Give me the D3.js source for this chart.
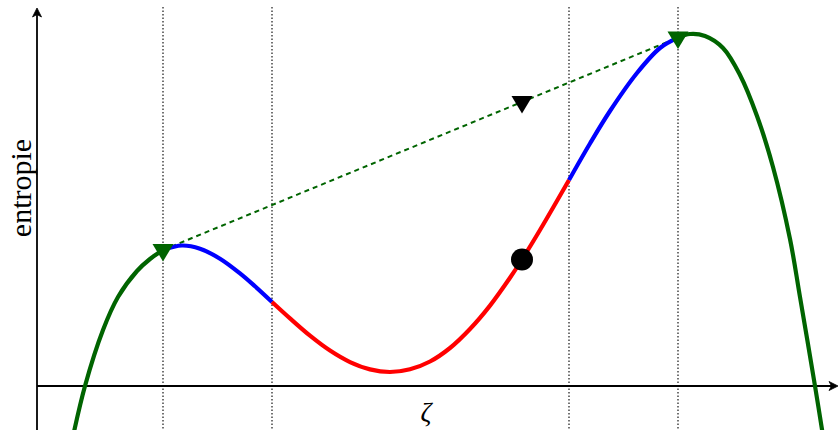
<!DOCTYPE html>
<html>
<head>
<meta charset="utf-8">
<script src="https://cdn.jsdelivr.net/npm/d3@7"></script>
<style>
  html, body { margin: 0; padding: 0; background: #fff; }
  svg { display: block; }
</style>
</head>
<body>
<svg id="chart" width="838" height="430"></svg>
<script>
// ---- data ----
const zeta = [0.35, 0.48, 0.66, 0.81, 1.00, 1.13, 1.26, 1.45, 1.63, 1.83, 2.03, 2.18, 2.35,
  2.53, 2.73, 2.93, 3.13, 3.33, 3.53, 3.73, 3.93, 4.13, 4.33, 4.53, 4.73, 4.85, 5.03, 5.32,
  5.53, 5.73, 6.00, 6.23, 6.41, 6.53, 6.68, 6.86, 7.03, 7.20, 7.36, 7.53, 7.63, 7.78, 7.87];
const entropie = [-0.55, 0.00, 0.56, 0.89, 1.15, 1.27, 1.36, 1.405, 1.373, 1.273, 1.126, 0.997, 0.84,
  0.676, 0.503, 0.354, 0.239, 0.166, 0.14, 0.167, 0.245, 0.38, 0.57, 0.804, 1.082, 1.265, 1.56, 2.06,
  2.425, 2.75, 3.13, 3.38, 3.484, 3.52, 3.50, 3.38, 3.11, 2.70, 2.19, 1.47, 0.89, 0.00, -0.56];
// phase boundaries (vertical dotted lines)
const boundaries = [1.26, 2.35, 5.32, 6.41];
const phases = ["stable", "metastable", "instable", "metastable", "stable"];
// common tangent
const tangentZeta = [1.26, 6.41];
const tangentEntropie = [1.36, 3.484];
// marked points
const pointZeta = 4.85;
const pointEntropie = 1.265;
const pointTangentEntropie = 2.84;
const xLabel = "ζ";
const yLabel = "entropie";

// ---- styles ----
const phaseColor = { stable: "#006400", metastable: "#0000ff", instable: "#ff0000" };

const svg = d3.select("#chart");
const x = d3.scaleLinear().domain([0, 8.01]).range([37, 838]);
const y = d3.scaleLinear().domain([0, 3.78]).range([386, 8]);

// vertical dotted lines
svg.selectAll("line.vline").data(boundaries).join("line")
  .attr("class", "vline")
  .attr("x1", d => x(d)).attr("x2", d => x(d))
  .attr("y1", y(3.79)).attr("y2", 430)
  .attr("stroke", "#000").attr("stroke-width", 1.1)
  .attr("stroke-dasharray", "1.5,2");

// axes
const axisW = 1.8;
svg.append("line").attr("x1", x(0)).attr("x2", x(8.01) - 4).attr("y1", y(0)).attr("y2", y(0))
  .attr("stroke", "#000").attr("stroke-width", axisW);
svg.append("line").attr("x1", x(0)).attr("x2", x(0)).attr("y1", 430).attr("y2", y(3.78) + 4)
  .attr("stroke", "#000").attr("stroke-width", axisW);
// arrow heads
const ax = x(8.01), ay = y(0);
svg.append("path")
  .attr("d", `M${ax},${ay} L${ax - 9},${ay - 4.5} L${ax - 6.5},${ay} L${ax - 9},${ay + 4.5} Z`)
  .attr("fill", "#000").attr("stroke", "#000").attr("stroke-width", 0.8).attr("stroke-linejoin", "round");
const bx = x(0), by = y(3.78);
svg.append("path")
  .attr("d", `M${bx},${by} L${bx - 4.5},${by + 9} L${bx},${by + 6.5} L${bx + 4.5},${by + 9} Z`)
  .attr("fill", "#000").attr("stroke", "#000").attr("stroke-width", 0.8).attr("stroke-linejoin", "round");

// curve split into phase segments
const pts = zeta.map((z, i) => [z, entropie[i]]);
const edges = [-Infinity, ...boundaries, Infinity];
const segments = phases.map((p, k) => ({
  phase: p,
  pts: pts.filter(d => d[0] >= edges[k] - 1e-9 && d[0] <= edges[k + 1] + 1e-9)
}));
const line = d3.line().x(d => x(d[0])).y(d => y(d[1])).curve(d3.curveCatmullRom.alpha(0.5));

// tangent (dashed)
svg.append("path")
  .datum(tangentZeta.map((z, i) => [z, tangentEntropie[i]]))
  .attr("d", d3.line().x(d => x(d[0])).y(d => y(d[1])))
  .attr("fill", "none").attr("stroke", "#006400").attr("stroke-width", 2)
  .attr("stroke-dasharray", "5,4");

svg.selectAll("path.seg").data(segments).join("path")
  .attr("class", "seg")
  .attr("d", d => line(d.pts))
  .attr("fill", "none")
  .attr("stroke", d => phaseColor[d.phase])
  .attr("stroke-width", 4.2)
  .attr("stroke-linecap", "butt");

// markers
const tri = "M-10.5,-6 L10.5,-6 L0,11.5 Z";
svg.selectAll("path.gtri").data(tangentZeta.map((z, i) => [z, tangentEntropie[i]])).join("path")
  .attr("class", "gtri")
  .attr("transform", d => `translate(${x(d[0])},${y(d[1])})`)
  .attr("d", tri).attr("fill", "#006400");
svg.append("path")
  .attr("transform", `translate(${x(pointZeta)},${y(pointTangentEntropie)})`)
  .attr("d", tri).attr("fill", "#000");
svg.append("circle")
  .attr("cx", x(pointZeta)).attr("cy", y(pointEntropie)).attr("r", 11)
  .attr("fill", "#000");

// labels
svg.append("text")
  .attr("x", 426).attr("y", 421)
  .attr("text-anchor", "middle")
  .attr("font-family", "'Liberation Serif', 'DejaVu Serif', serif")
  .attr("font-style", "italic")
  .attr("font-size", 27)
  .text(xLabel);
svg.append("text")
  .attr("transform", "translate(31,188) rotate(-90)")
  .attr("text-anchor", "middle")
  .attr("font-family", "'Liberation Serif', 'DejaVu Serif', serif")
  .attr("font-size", 30)
  .text(yLabel);
</script>
</body>
</html>
